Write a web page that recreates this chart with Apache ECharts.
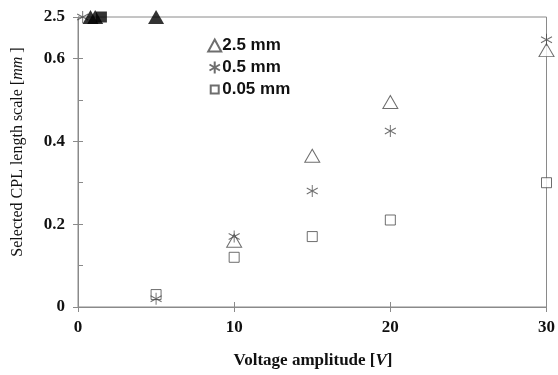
<!DOCTYPE html>
<html>
<head>
<meta charset="utf-8">
<script src="https://cdn.jsdelivr.net/npm/echarts@6/dist/echarts.min.js"></script>
<style>
html,body{margin:0;padding:0;background:#fff;}
#chart{width:558px;height:375px;}
</style>
</head>
<body>
<div id="chart"></div>
<script>
// ---- data ----
// y = 2.5 is drawn at the top of the broken axis (labelled "2.5")
const tri25X = [10, 15, 20, 30];
const tri25Y = [0.16, 0.365, 0.495, 0.62];
const star05X = [0.3, 5, 10, 15, 20, 30];
const star05Y = [2.5, 0.02, 0.17, 0.28, 0.425, 0.645];
const sq005X = [5, 10, 15, 20, 30];
const sq005Y = [0.03, 0.12, 0.17, 0.21, 0.30];
// filled (off-scale) markers at 2.5
const offTriX = [0.8, 1.1, 5];
const offTriY = [2.5, 2.5, 2.5];
const offSqX = [1.5];
const offSqY = [2.5];

const seriesNames = ['2.5 mm', '0.5 mm', '0.05 mm'];
const xTicks = [0, 10, 20, 30];
const yTickValues = [0, 0.2, 0.4, 0.6, 0.7];
const yTickLabels = ['0', '0.2', '0.4', '0.6', '2.5'];
const BREAK_VALUE = 2.5;   // shown at axis top
const AXIS_TOP = 0.7;

function pts(xs, ys) {
  return xs.map((x, i) => [x, ys[i] >= BREAK_VALUE ? AXIS_TOP : ys[i]]);
}

const AX = '#8a8a8a';
const MK = '#4a4a4a';
const SERIF = '"Liberation Serif", "Times New Roman", serif';
const SANS = '"Liberation Sans", Arial, sans-serif';
const STAR = 'path://M0,-1L0,1M-0.87,-0.5L0.87,0.5M-0.87,0.5L0.87,-0.5';

const chart = echarts.init(document.getElementById('chart'), null, {renderer: 'canvas'});

const hollow = {color: '#fff', borderColor: MK, borderWidth: 1};

chart.setOption({
  animation: false,
  backgroundColor: '#fff',
  grid: {left: 78, right: 9, top: 17, bottom: 68, show: true, borderColor: AX, borderWidth: 1, backgroundColor: 'transparent'},
  xAxis: [{
    type: 'value', min: 0, max: 30, interval: 10,
    axisLine: {show: true, lineStyle: {color: AX, width: 1}},
    axisTick: {show: true, inside: true, length: 5, lineStyle: {color: AX}},
    axisLabel: {show: true, margin: 12, fontFamily: SERIF, fontWeight: 'bold', fontSize: 17, color: '#111',
      customValues: xTicks},
    splitLine: {show: false}
  }, {
    type: 'value', min: 0, max: 30, interval: 10, position: 'bottom',
    axisLine: {show: false},
    axisTick: {show: true, inside: false, length: 5, lineStyle: {color: AX}},
    axisLabel: {show: false},
    splitLine: {show: false}
  }],
  yAxis: [{
    type: 'value', min: 0, max: AXIS_TOP, interval: 0.1,
    axisLine: {show: true, lineStyle: {color: AX, width: 1}},
    axisTick: {show: true, inside: true, length: 5, lineStyle: {color: AX}},
    axisLabel: {show: true, margin: 13, fontFamily: SERIF, fontWeight: 'bold', fontSize: 17, color: '#111',
      customValues: yTickValues,
      formatter: function (v) {
        for (let i = 0; i < yTickValues.length; i++) {
          if (Math.abs(v - yTickValues[i]) < 1e-6) return yTickLabels[i];
        }
        return '';
      }},
    splitLine: {show: false}
  }, {
    type: 'value', min: 0, max: AXIS_TOP, interval: 0.1, position: 'left',
    axisLine: {show: false},
    axisTick: {show: true, inside: false, length: 5, lineStyle: {color: AX}, customValues: yTickValues},
    axisLabel: {show: false},
    splitLine: {show: false}
  }],
  legend: {
    data: [
      {name: seriesNames[0], icon: 'triangle'},
      {name: seriesNames[1], icon: STAR},
      {name: seriesNames[2], icon: 'path://M0,0M12,12M2,2h8v8h-8z'}
    ],
    orient: 'vertical', left: 202, top: 31,
    itemWidth: 13, itemHeight: 12, itemGap: 3,
    textStyle: {fontFamily: SANS, fontWeight: 'bold', fontSize: 17, color: '#111', padding: [0, 0, 0, -4], lineHeight: 19}
  },
  graphic: [{
    type: 'text', x: 18, y: 152, rotation: Math.PI / 2,
    style: {
      text: '{a|Selected CPL length scale [}{b|mm}{a| ]}',
      rich: {
        a: {fontFamily: SERIF, fontSize: 16, fill: '#111'},
        b: {fontFamily: SERIF, fontSize: 16, fontStyle: 'italic', fill: '#111'}
      },
      align: 'center', verticalAlign: 'middle'
    }
  }, {
    type: 'text', x: 313, y: 361,
    style: {
      text: '{a|Voltage amplitude [}{b|V}{a|]}',
      rich: {
        a: {fontFamily: SERIF, fontSize: 17, fontWeight: 'bold', fill: '#111'},
        b: {fontFamily: SERIF, fontSize: 17, fontWeight: 'bold', fontStyle: 'italic', fill: '#111'}
      },
      align: 'center', verticalAlign: 'middle'
    }
  }],
  series: [{
    name: seriesNames[0], type: 'scatter', symbol: 'triangle', symbolSize: [15, 13],
    itemStyle: hollow, data: pts(tri25X, tri25Y), z: 3
  }, {
    name: seriesNames[1], type: 'scatter', symbol: STAR, symbolSize: [11, 12],
    itemStyle: {color: 'none', borderColor: MK, borderWidth: 1}, data: pts(star05X, star05Y), z: 4
  }, {
    name: seriesNames[2], type: 'scatter', symbol: 'rect', symbolSize: 10,
    itemStyle: hollow, data: pts(sq005X, sq005Y), z: 3
  }, {
    name: 'off-scale 2.5 mm', type: 'scatter', symbol: 'triangle', symbolSize: [16, 14],
    itemStyle: {color: '#000'}, data: pts(offTriX, offTriY), z: 5
  }, {
    name: 'off-scale 0.05 mm', type: 'scatter', symbol: 'rect', symbolSize: 11,
    itemStyle: {color: '#000'}, data: pts(offSqX, offSqY), z: 5
  }]
});
</script>
</body>
</html>
